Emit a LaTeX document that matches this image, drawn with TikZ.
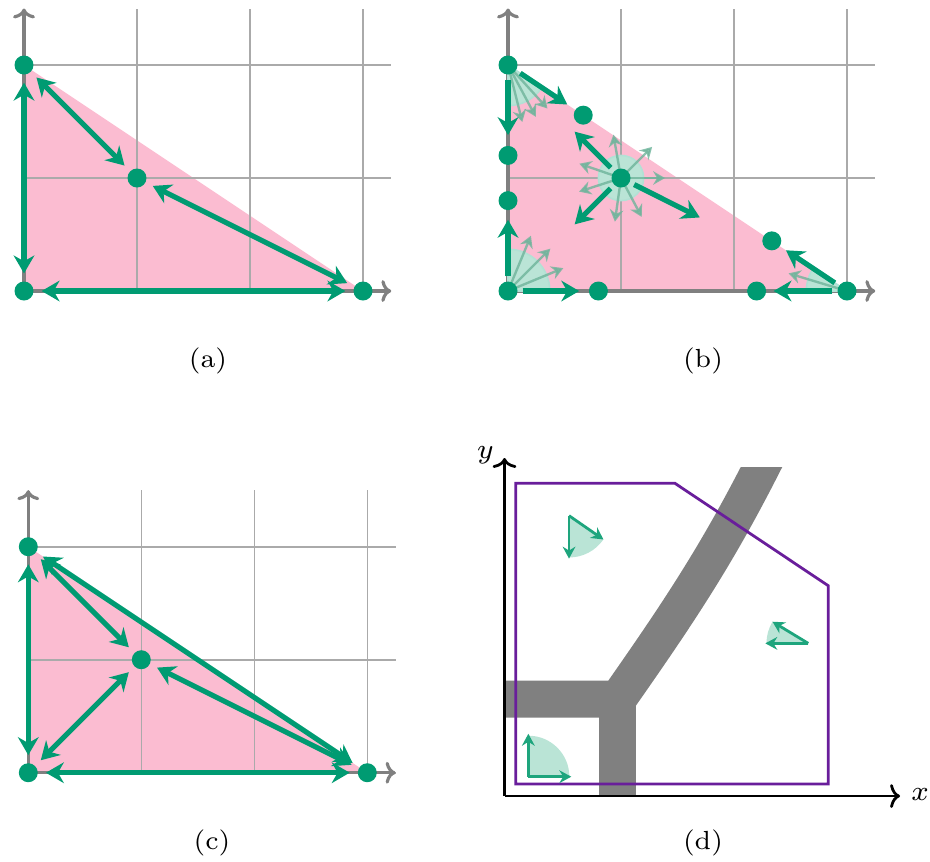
\documentclass[tikz,border=0pt]{standalone}
\usetikzlibrary{arrows.meta}
\definecolor{grn}{RGB}{0,155,114}
\definecolor{dgrn}{RGB}{30,165,125}
\definecolor{pnk}{RGB}{251,188,209}
\definecolor{prp}{RGB}{105,30,155}
\definecolor{grd}{RGB}{170,170,170}
\definecolor{axg}{RGB}{128,128,128}
\definecolor{roadc}{RGB}{128,128,128}
\definecolor{mint}{RGB}{186,228,214}
\definecolor{fgrn}{RGB}{110,180,155}
\tikzset{
 dot/.style={circle, fill=grn, inner sep=0pt, minimum size=0.168cm},
 gridline/.style={grd, line width=0.4pt},
 axisline/.style={axg, line width=0.8pt, -{To[length=2.5pt,width=5.5pt]}},
 dbl/.style={grn, line width=1.3pt, {Stealth[length=4.5pt,width=5.2pt]}-{Stealth[length=4.5pt,width=5.2pt]}, shorten <=0.065cm, shorten >=0.065cm},
 sol/.style={grn, line width=1.3pt, -{Stealth[length=4.5pt,width=5.2pt]}},
 faint/.style={fgrn, opacity=0.8, line width=0.6pt, -{Stealth[length=3pt,width=3.4pt]}},
 cone/.style={fill=mint, draw=grn!30!white, line width=0.4pt},
 tri/.style={fill=pnk},
 lbl/.style={font=\fontsize{6.6}{8}\selectfont},
 daxis/.style={black, line width=0.7pt, -{To[length=2.5pt,width=6pt]}},
 roadline/.style={roadc, line width=0.327cm, line join=miter},
 poly/.style={prp, line width=0.7pt},
 dcone/.style={fill=mint},
 darr/.style={dgrn, line width=0.7pt, -{Stealth[length=3pt,width=3.2pt]}},
}
\begin{document}
\begin{tikzpicture}
\useasboundingbox (0,0) rectangle (8.2301,-7.6195);
% ---------------- (a)
\begin{scope}[shift={(0.2124,-2.5752)}]
 \fill[tri] (0,0) -- (3,0) -- (0,2) -- cycle;
 \draw[gridline] (0,0) grid (3.25,2.5);
 \draw[axisline] (0,0) -- (3.25,0);
 \draw[axisline] (0,0) -- (0,2.5);
 \node[dot] (a0) at (0,0) {};
 \node[dot] (a1) at (3,0) {};
 \node[dot] (a2) at (0,2) {};
 \node[dot] (am) at (1,1) {};
 \draw[dbl] (a0) -- (a2);
 \draw[dbl] (a0) -- (a1);
 \draw[dbl] (a2) -- (am);
 \draw[dbl] (am) -- (a1);
\end{scope}
\node[lbl] (la) at (1.841,-3.195) {(a)};
% ---------------- (b)
\begin{scope}[shift={(4.4956,-2.5752)}]
 \fill[tri] (0,0) -- (3,0) -- (0,2) -- cycle;
 \draw[gridline] (0,0) grid (3.25,2.5);
 \draw[axisline] (0,0) -- (3.25,0);
 \draw[axisline] (0,0) -- (0,2.5);
 \coordinate (b0) at (0,0);
 \coordinate (b1) at (3,0);
 \coordinate (b2) at (0,2);
 \coordinate (bm) at (1,1);
 % cones
 \filldraw[cone] (b2) -- ++(-90:0.36) arc[start angle=-90, end angle=-33.69, radius=0.36] -- cycle;
 \filldraw[cone] (b0) -- ++(0:0.37) arc[start angle=0, end angle=90, radius=0.37] -- cycle;
 \filldraw[cone] (b1) -- ++(146.31:0.36) arc[start angle=146.31, end angle=180, radius=0.36] -- cycle;
 \filldraw[cone] (bm) circle[radius=0.2];
 % faint arrows
 \foreach \a in {-75.9,-61.8,-47.8} \draw[faint] (b2) ++(\a:0.08) -- ++(\a:0.44);
 \foreach \a in {22.5,45,67.5} \draw[faint] (b0) ++(\a:0.08) -- ++(\a:0.45);
 \draw[faint] (b1) ++(163.2:0.08) -- ++(163.2:0.46);
 \foreach \a in {0,45,100,161,198,262,298} \draw[faint] (bm) ++(\a:0.08) -- ++(\a:0.31);
 % solid arrows
 \draw[sol] (b2) ++(-90:0.13) -- ++(-90:0.49);
 \draw[sol] (b2) ++(-33.69:0.13) -- ++(-33.69:0.5);
 \draw[sol] (b0) ++(90:0.13) -- ++(90:0.5);
 \draw[sol] (b0) ++(0:0.13) -- ++(0:0.5);
 \draw[sol] (b1) ++(180:0.13) -- ++(180:0.52);
 \draw[sol] (b1) ++(146.31:0.13) -- ++(146.31:0.52);
 \draw[sol] (bm) ++(135:0.13) -- ++(135:0.45);
 \draw[sol] (bm) ++(225:0.13) -- ++(225:0.45);
 \draw[sol] (bm) ++(-26.57:0.13) -- ++(-26.57:0.65);
 % dots
 \node[dot] (d0) at (b0) {};
 \node[dot] (d1) at (b1) {};
 \node[dot] (d2) at (b2) {};
 \node[dot] (dm) at (bm) {};
 \node[dot] (e1) at (0,1.2) {};
 \node[dot] (e2) at (0,0.8) {};
 \node[dot] (e3) at (0.8,0) {};
 \node[dot] (e4) at (2.2,0) {};
 \node[dot] (e5) at (0.6656,1.5562) {};
 \node[dot] (e6) at (2.3344,0.4438) {};
\end{scope}
\node[lbl] (lb) at (6.221,-3.195) {(b)};
% ---------------- (c)
\begin{scope}[shift={(0.2504,-6.838)}]
 \fill[tri] (0,0) -- (3,0) -- (0,2) -- cycle;
 \draw[gridline] (0,0) grid (3.25,2.5);
 \draw[axisline] (0,0) -- (3.25,0);
 \draw[axisline] (0,0) -- (0,2.5);
 \node[dot] (c0) at (0,0) {};
 \node[dot] (c1) at (3,0) {};
 \node[dot] (c2) at (0,2) {};
 \node[dot] (cm) at (1,1) {};
 \draw[dbl] (c0) -- (c2);
 \draw[dbl] (c0) -- (c1);
 \draw[dbl] (c2) -- (cm);
 \draw[dbl] (cm) -- (c1);
 \draw[dbl] (c0) -- (cm);
 \draw[dbl] (c2) -- (c1);
\end{scope}
\node[lbl] (lc) at (1.876,-7.460) {(c)};
% ---------------- (d)
\begin{scope}[shift={(4.4646,-7.0442)}]
 \begin{scope}
  \clip (-0.2,-0.2) rectangle (4,2.903);
  \draw[roadline] (0,0.858) -- (1.004,0.858) .. controls (1.520,1.595) and (1.861,2.101) .. (2.270,2.903) -- ++(63:0.3);
  \draw[roadline] (1.004,0.858) -- (1.004,0);
 \end{scope}
 \draw[poly] (0.099,2.767) -- (1.509,2.767) -- (2.865,1.861) -- (2.865,0.106) -- (0.099,0.106) -- cycle;
 \coordinate (o) at (0,0);
 \coordinate (xe) at (3.5,0);
 \coordinate (ye) at (0,2.991);
 \draw[daxis] (o) -- (xe);
 \draw[daxis] (o) -- (ye);
 \node[lbl, inner sep=0pt] (xl) at (3.677,0.01) {$x$};
 \node[lbl, inner sep=0pt] (yl) at (-0.17,3.02) {$y$};
 \coordinate (p1) at (0.211,0.171);
 \coordinate (p2) at (0.571,2.481);
 \coordinate (p3) at (2.688,1.351);
 \fill[dcone] (p1) -- ++(0:0.363) arc[start angle=0, end angle=90, radius=0.363] -- cycle;
 \fill[dcone] (p2) -- ++(-90:0.37) arc[start angle=-90, end angle=-34.7, radius=0.37] -- cycle;
 \fill[dcone] (p3) -- ++(148.8:0.37) arc[start angle=148.8, end angle=180, radius=0.37] -- cycle;
 \draw[darr] (p1) -- ++(90:0.38);
 \draw[darr] (p1) -- ++(0:0.38);
 \draw[darr] (p2) -- ++(-90:0.38);
 \draw[darr] (p2) -- ++(-34.7:0.37);
 \draw[darr] (p3) -- ++(180:0.38);
 \draw[darr] (p3) -- ++(148.8:0.37);
\end{scope}
\node[lbl] (ld) at (6.221,-7.460) {(d)};
\end{tikzpicture}
\end{document}
